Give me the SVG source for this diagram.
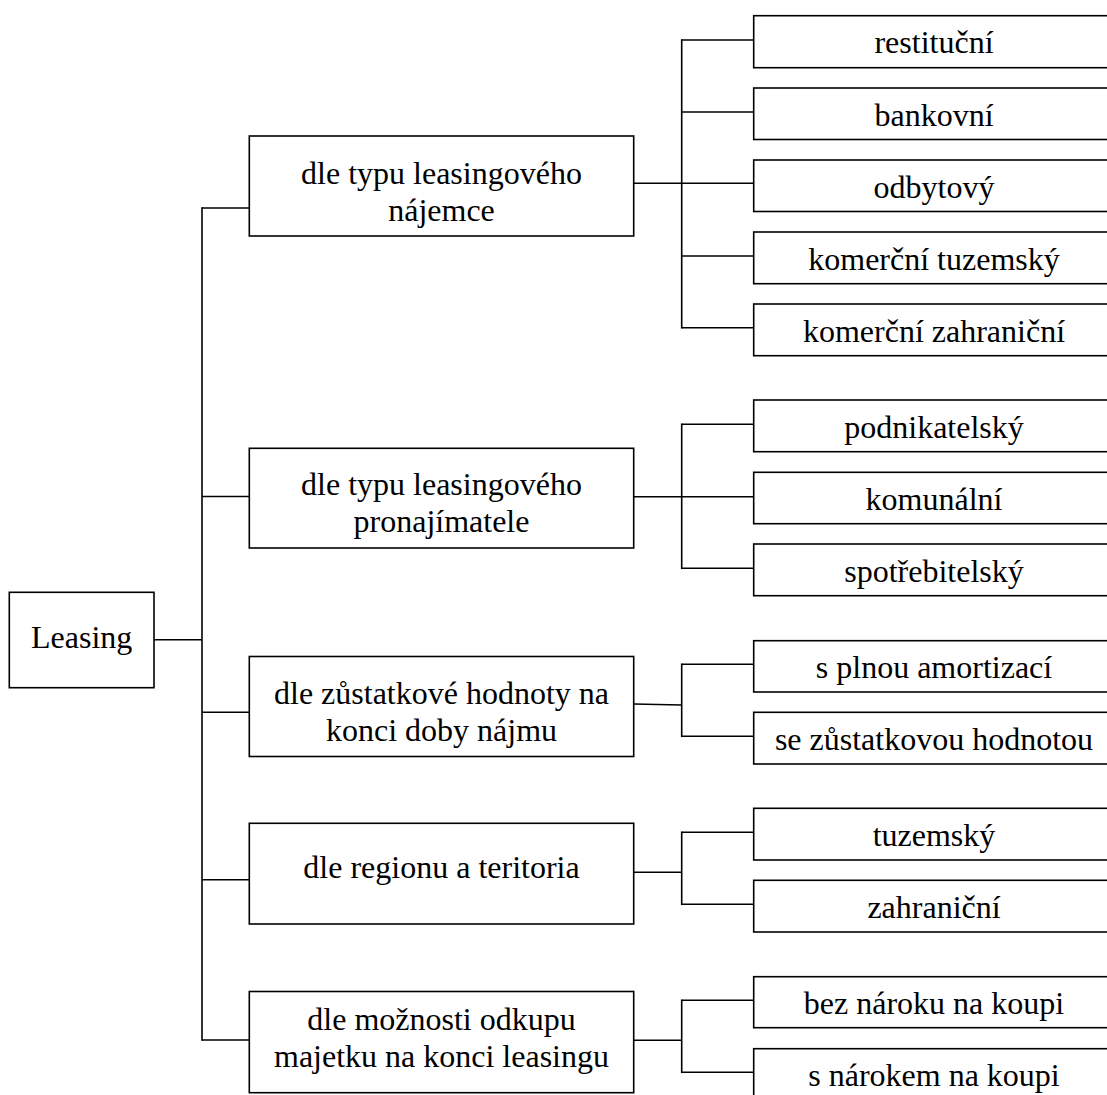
<svg xmlns="http://www.w3.org/2000/svg" width="1107" height="1095" viewBox="0 0 1107 1095">
<style>
rect{fill:#fff;stroke:#000;stroke-width:1.6}
.c line{stroke:#000;stroke-width:1.6}
text{font-family:"Liberation Serif","Times New Roman",serif;font-size:32px;fill:#000;text-anchor:middle}
</style>
<rect x="0" y="0" width="1107" height="1095" style="stroke:none"/>
<g class="c" id="connectors">
<line x1="154" y1="639.7" x2="202" y2="639.7"/>
<line x1="202" y1="207.2" x2="202" y2="1040.8"/>
<line x1="202" y1="208" x2="249.3" y2="208"/>
<line x1="202" y1="496.5" x2="249.3" y2="496.5"/>
<line x1="202" y1="712.3" x2="249.3" y2="712.3"/>
<line x1="202" y1="879.7" x2="249.3" y2="879.7"/>
<line x1="202" y1="1040" x2="249.3" y2="1040"/>
<line x1="633.7" y1="183.3" x2="681.7" y2="183.3"/>
<line x1="681.7" y1="39.2" x2="681.7" y2="328.5"/>
<line x1="681.7" y1="40" x2="753.7" y2="40"/>
<line x1="681.7" y1="112" x2="753.7" y2="112"/>
<line x1="681.7" y1="183.3" x2="753.7" y2="183.3"/>
<line x1="681.7" y1="256" x2="753.7" y2="256"/>
<line x1="681.7" y1="327.7" x2="753.7" y2="327.7"/>
<line x1="633.7" y1="496.7" x2="681.7" y2="496.7"/>
<line x1="681.7" y1="423.5" x2="681.7" y2="569.1"/>
<line x1="681.7" y1="424.3" x2="753.7" y2="424.3"/>
<line x1="681.7" y1="496.7" x2="753.7" y2="496.7"/>
<line x1="681.7" y1="568.3" x2="753.7" y2="568.3"/>
<line x1="633.7" y1="704" x2="681.7" y2="705"/>
<line x1="681.7" y1="663.5" x2="681.7" y2="737.1"/>
<line x1="681.7" y1="664.3" x2="753.7" y2="664.3"/>
<line x1="681.7" y1="736.3" x2="753.7" y2="736.3"/>
<line x1="633.7" y1="872.3" x2="681.7" y2="872.3"/>
<line x1="681.7" y1="831.5" x2="681.7" y2="905.1"/>
<line x1="681.7" y1="832.3" x2="753.7" y2="832.3"/>
<line x1="681.7" y1="904.3" x2="753.7" y2="904.3"/>
<line x1="633.7" y1="1040.3" x2="681.7" y2="1040.3"/>
<line x1="681.7" y1="999.5" x2="681.7" y2="1073.1"/>
<line x1="681.7" y1="1000.3" x2="753.7" y2="1000.3"/>
<line x1="681.7" y1="1072.3" x2="753.7" y2="1072.3"/>
</g>
<g id="leasing"><rect x="9.3" y="592.3" width="144.7" height="95.4"/><text x="81.7" y="648.3">Leasing</text></g>
<g id="najemce"><rect x="249.3" y="136" width="384.4" height="100"/><text x="441.5" y="184"><tspan x="441.5">dle typu leasingového</tspan><tspan x="441.5" dy="36.5">nájemce</tspan></text></g>
<g id="pronajimatele"><rect x="249.3" y="448.3" width="384.4" height="99.7"/><text x="441.5" y="495"><tspan x="441.5">dle typu leasingového</tspan><tspan x="441.5" dy="36.5">pronajímatele</tspan></text></g>
<g id="zustatkove"><rect x="249.3" y="656.5" width="384.4" height="100"/><text x="441.5" y="704"><tspan x="441.5">dle zůstatkové hodnoty na</tspan><tspan x="441.5" dy="36.5">konci doby nájmu</tspan></text></g>
<g id="region"><rect x="249.3" y="823.3" width="384.4" height="100.7"/><text x="441.5" y="878.3">dle regionu a teritoria</text></g>
<g id="odkup"><rect x="249.3" y="991.5" width="384.4" height="101.2"/><text x="441.5" y="1030"><tspan x="441.5">dle možnosti odkupu</tspan><tspan x="441.5" dy="36.7">majetku na konci leasingu</tspan></text></g>
<g id="restitucni"><rect x="753.7" y="15.7" width="360" height="52"/><text x="934" y="53.2">restituční</text></g>
<g id="bankovni"><rect x="753.7" y="88" width="360" height="51.5"/><text x="934" y="125.5">bankovní</text></g>
<g id="odbytovy"><rect x="753.7" y="160" width="360" height="51.5"/><text x="934" y="197.5">odbytový</text></g>
<g id="kom-tuz"><rect x="753.7" y="232" width="360" height="51.7"/><text x="934" y="269.5">komerční tuzemský</text></g>
<g id="kom-zahr"><rect x="753.7" y="304" width="360" height="51.7"/><text x="934" y="341.5">komerční zahraniční</text></g>
<g id="podnikatelsky"><rect x="753.7" y="400" width="360" height="51.7"/><text x="934" y="437.5">podnikatelský</text></g>
<g id="komunalni"><rect x="753.7" y="472.3" width="360" height="51.4"/><text x="934" y="509.8">komunální</text></g>
<g id="spotrebitelsky"><rect x="753.7" y="544" width="360" height="51.7"/><text x="934" y="581.5">spotřebitelský</text></g>
<g id="plna"><rect x="753.7" y="640.7" width="360" height="51.3"/><text x="934" y="678.2">s plnou amortizací</text></g>
<g id="zustatkova"><rect x="753.7" y="712.3" width="360" height="51.7"/><text x="934" y="749.8">se zůstatkovou hodnotou</text></g>
<g id="tuzemsky"><rect x="753.7" y="808.3" width="360" height="51.7"/><text x="934" y="845.5">tuzemský</text></g>
<g id="zahranicni"><rect x="753.7" y="880.3" width="360" height="51.7"/><text x="934" y="917.8">zahraniční</text></g>
<g id="bez-naroku"><rect x="753.7" y="976.7" width="360" height="51"/><text x="934" y="1014.2">bez nároku na koupi</text></g>
<g id="s-narokem"><rect x="753.7" y="1048.7" width="360" height="52"/><text x="934" y="1086">s nárokem na koupi</text></g>
</svg>
